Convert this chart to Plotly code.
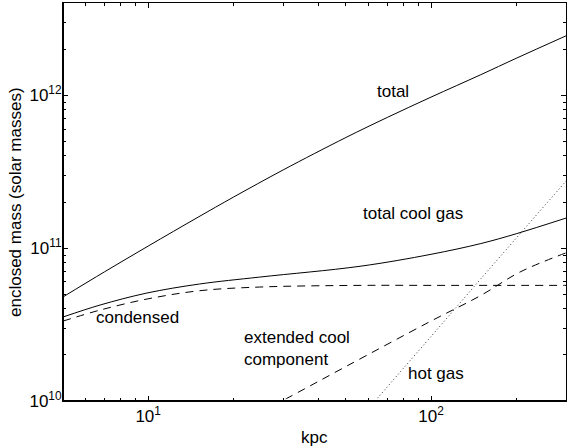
import math
import plotly.graph_objects as go

# --- data (kpc, solar masses) ---
total_x = [5, 7, 10, 15, 20, 30, 50, 70, 100, 150, 200, 300]
total_y = [4.79e10, 6.98e10, 1.03e11, 1.59e11, 2.15e11, 3.24e11, 5.28e11, 7.14e11,
           9.7e11, 1.36e12, 1.74e12, 2.44e12]

coolgas_x = [5, 6.76, 9.9, 15.2, 24.8, 56.1, 100, 150, 200, 300]
coolgas_y = [3.54e10, 4.24e10, 5.08e10, 5.82e10, 6.46e10, 7.6e10, 9.1e10, 1.07e11, 1.24e11, 1.57e11]

condensed_x = [5, 6.76, 9.9, 15.2, 24.8, 56.1, 100, 300]
condensed_y = [3.33e10, 3.93e10, 4.64e10, 5.26e10, 5.56e10, 5.7e10, 5.7e10, 5.7e10]

extended_x = [25, 30.9, 50, 99, 150, 206, 300]
extended_y = [0.85e10, 1.04e10, 1.68e10, 3.3e10, 4.9e10, 6.96e10, 9.3e10]

hot_x = [60, 63.4, 100, 150, 200, 300]
hot_y = [0.89e10, 1.0e10, 2.64e10, 6.3e10, 1.16e11, 2.74e11]

x_ticks = [10, 100]
x_ticktext = ["10<sup>1</sup>", "10<sup>2</sup>"]
y_ticks = [1e10, 1e11, 1e12]
y_ticktext = ["10<sup>10</sup>", "10<sup>11</sup>", "10<sup>12</sup>"]

labels = [
    ("total", 73.1, 1.06e12, "center"),
    ("total cool gas", 86.3, 1.68e11, "center"),
    ("condensed", 9.17, 3.52e10, "center"),
    ("extended cool<br>component", 21.4, 2.21e10, "left"),
    ("hot gas", 104, 1.52e10, "center"),
]

x_minor = [6, 7, 8, 9, 20, 30, 40, 50, 60, 70, 80, 90, 200, 300]
y_minor = [m * 10 ** e for e in (10, 11, 12) for m in range(2, 10) if m * 10 ** e <= 4e12]

FS = 17
fig = go.Figure()
line_common = dict(color="black", width=1)
fig.add_trace(go.Scatter(x=total_x, y=total_y, mode="lines", line=dict(**line_common, shape="spline")))
fig.add_trace(go.Scatter(x=coolgas_x, y=coolgas_y, mode="lines", line=dict(**line_common, shape="spline")))
fig.add_trace(go.Scatter(x=condensed_x, y=condensed_y, mode="lines",
                         line=dict(**line_common, dash="8px,6px", shape="spline")))
fig.add_trace(go.Scatter(x=extended_x, y=extended_y, mode="lines",
                         line=dict(**line_common, dash="8px,6px", shape="spline")))
fig.add_trace(go.Scatter(x=hot_x, y=hot_y, mode="lines",
                         line=dict(color="#333", width=1, dash="1px,2.5px")))

for text, lx, ly, align in labels:
    fig.add_annotation(x=math.log10(lx), y=math.log10(ly), xref="x", yref="y", text=text,
                       showarrow=False, xanchor="left" if align == "left" else "center",
                       align=align, font=dict(size=FS, color="black"))

# axis titles
fig.add_annotation(x=0.5, y=0, xref="paper", yref="paper", yshift=-36, text="kpc",
                   showarrow=False, xanchor="center", yanchor="middle",
                   font=dict(size=FS, color="black"))
fig.add_annotation(x=0, y=0.5, xref="paper", yref="paper", xshift=-48,
                   text="enclosed mass (solar masses)", textangle=-90,
                   showarrow=False, xanchor="center", yanchor="middle",
                   font=dict(size=FS, color="black"))

font = dict(family="Liberation Sans, Arial, sans-serif", size=FS, color="black")
fig.update_layout(
    width=568, height=448,
    margin=dict(l=63, r=2, t=3, b=47, autoexpand=False),
    paper_bgcolor="white", plot_bgcolor="white",
    showlegend=False,
    font=font,
)
fig.update_xaxes(
    type="log", range=[0.69897, 2.47712], automargin=False,
    tickmode="array", tickvals=x_ticks, ticktext=x_ticktext,
    ticks="inside", ticklen=5, tickwidth=1, tickcolor="black",
    showline=True, linecolor="black", linewidth=1, mirror="allticks",
    showgrid=False, zeroline=False, tickfont=dict(size=FS),
    minor=dict(tickmode="array", tickvals=x_minor, ticks="inside", ticklen=3,
               tickcolor="black", tickwidth=1, showgrid=False),
)
fig.update_yaxes(
    type="log", range=[10, 12.60206], automargin=False,
    tickmode="array", tickvals=y_ticks, ticktext=y_ticktext,
    ticks="inside", ticklen=5, tickwidth=1, tickcolor="black",
    showline=True, linecolor="black", linewidth=1, mirror="allticks",
    showgrid=False, zeroline=False, tickfont=dict(size=FS),
    ticklabelstandoff=-3,
    minor=dict(tickmode="array", tickvals=y_minor, ticks="inside", ticklen=3,
               tickcolor="black", tickwidth=1, showgrid=False),
)
# thicker left and bottom axis lines
fig.add_shape(type="line", xref="paper", yref="paper", x0=0, x1=0, y0=0, y1=1,
              line=dict(color="black", width=2), layer="above")
fig.add_shape(type="line", xref="paper", yref="paper", x0=0, x1=1, y0=0, y1=0,
              line=dict(color="black", width=2), layer="above")

fig.write_html("out.html", config={"displayModeBar": False},
               post_script="document.body.style.margin='0';document.body.style.overflow='hidden';")
